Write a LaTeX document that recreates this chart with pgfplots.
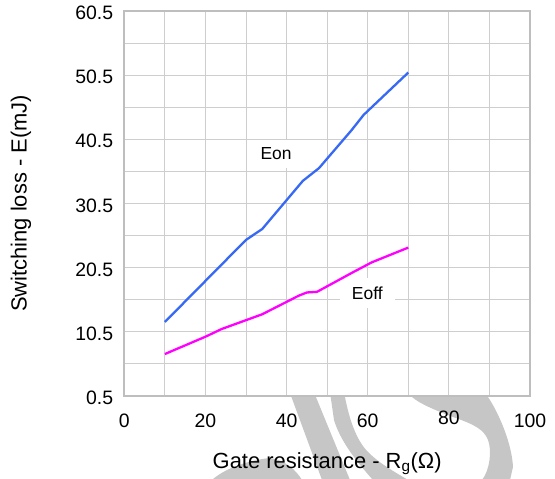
\documentclass[border=0pt]{standalone}
\usepackage{pgfplots}
\pgfplotsset{compat=1.18}
\usepackage{fontspec}
\setmainfont{Liberation Sans}

\definecolor{eonblue}{RGB}{55,105,245}
\definecolor{eoffmag}{RGB}{255,0,255}
\definecolor{gridgray}{RGB}{206,206,206}
\definecolor{framegray}{RGB}{190,190,190}
\definecolor{markgray}{RGB}{198,198,198}

% Switching energy versus gate resistance
\pgfplotstableread{
x    y
10   12.0
20   18.4
30   24.8
34   26.5
44   34.0
48   36.0
56   41.9
59   44.3
70   50.9
}\eontable

\pgfplotstableread{
x    y
10   7.0
20   9.7
24   10.9
34   13.2
43   16.1
45   16.6
47.5 16.7
56.5 19.8
61   21.3
70   23.6
}\eofftable

\begin{document}
\begin{tikzpicture}
% background emblem (pixel-style coordinates, y pointing down)
\begin{scope}[x=1bp, y=-1bp, shift={(-124.3bp,395.7bp)}]
  \fill[markgray] (287,385) -- (311,385) -- (350,480) -- (322,480) -- cycle;
  \fill[markgray] (329,385) -- (345,385) -- (345,397) .. controls (349,418) and (356,440) .. (368,452)
        .. controls (380,464) and (395,472) .. (408,480) -- (373,480)
        .. controls (355,460) and (340,440) .. (334,420) -- cycle;
  \fill[markgray] (412,385) -- (488,385) -- (488,397) .. controls (500,415) and (512,445) .. (513,467)
        -- (510,480) -- (482,480) .. controls (490,470) and (492,450) .. (488,440)
        .. controls (484,430) and (476,425) .. (453,417) .. controls (435,410) and (420,404) .. (412,397) -- cycle;
  \fill[markgray] (212,480) .. controls (225,468) and (250,460) .. (270,458)
        .. controls (285,460) and (296,470) .. (302,480) -- cycle;
\end{scope}

\begin{axis}[
  scale only axis,
  width=405.7bp, height=384.7bp,
  xmin=0, xmax=100, ymin=0.5, ymax=60.5,
  xtick={0,20,40,60,80,100},
  xticklabels={0,20,40,60,\raisebox{3bp}{80},100},
  minor xtick={10,30,50,70,90},
  ytick={0.5,10.5,20.5,30.5,40.5,50.5,60.5},
  yticklabels={0.5,10.5,20.5,30.5,40.5,50.5,60.5},
  minor ytick={5.5,15.5,25.5,35.5,45.5,55.5},
  grid=both,
  major grid style={gridgray, line width=1.0bp},
  minor grid style={gridgray, line width=1.0bp},
  major tick length=0pt, minor tick length=0pt,
  axis line style={framegray, line width=1.6bp},
  axis background/.style={fill=white},
  ticklabel style={font=\fontsize{19.5}{20}\selectfont},
  xticklabel style={anchor=base, inner sep=0pt, yshift=-31.3bp},
  yticklabel style={anchor=east, inner sep=0pt, xshift=-11bp, yshift=-2bp},
  xlabel={Gate resistance - R\textsubscript{g}(Ω)},
  ylabel={Switching loss - E(mJ)},
  label style={font=\fontsize{22}{24}\selectfont},
  xlabel style={at={(axis description cs:0.5,0)}, anchor=base, yshift=-72.3bp},
  ylabel style={at={([xshift=-103.3bp]axis description cs:0,0.5)}, anchor=center},
]
\node[fill=white, inner sep=0pt, minimum width=55bp, minimum height=28bp,
      font=\fontsize{17.5}{18}\selectfont] at (axis cs:37.4,38.2) {Eon};
\node[fill=white, inner sep=0pt, minimum width=55bp, minimum height=30bp,
      font=\fontsize{17.5}{18}\selectfont] at (axis cs:59.9,16.5) {Eoff};
\addplot[eonblue, line width=2.3bp, line join=round] table[x=x, y=y] {\eontable};
\addplot[eoffmag, line width=2.3bp, line join=round] table[x=x, y=y] {\eofftable};
\end{axis}
\pgfresetboundingbox
\path[use as bounding box] (-124.3bp,-83.3bp) rectangle (430.7bp,395.7bp);
\end{tikzpicture}
\end{document}
